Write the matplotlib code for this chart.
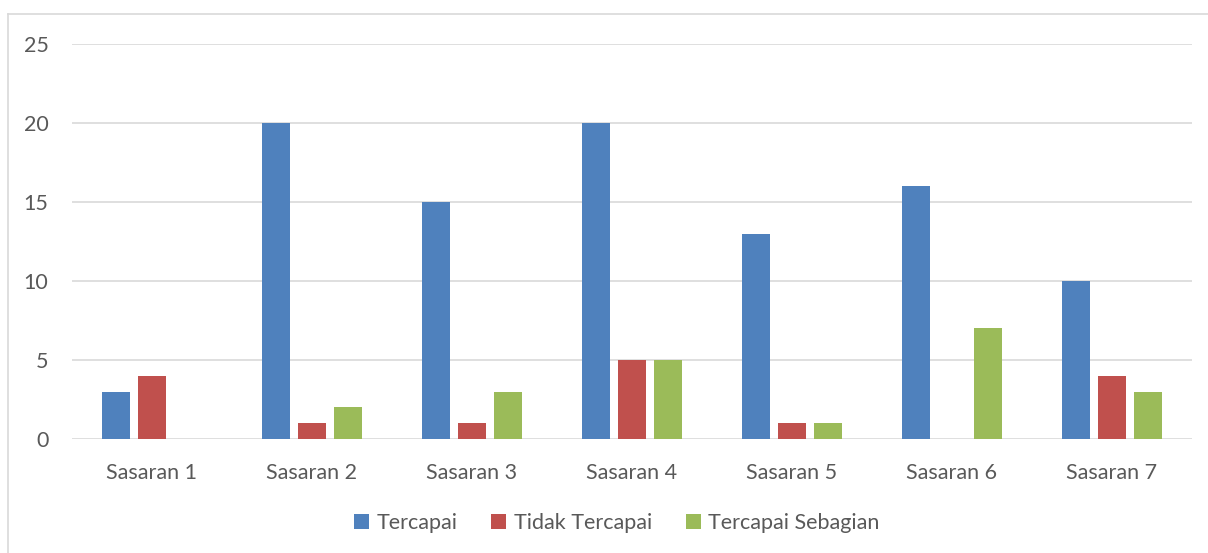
import matplotlib.pyplot as plt
import numpy as np
from matplotlib.lines import Line2D

categories = ['Sasaran 1', 'Sasaran 2', 'Sasaran 3', 'Sasaran 4', 'Sasaran 5', 'Sasaran 6', 'Sasaran 7']
tercapai = [3, 20, 15, 20, 13, 16, 10]
tidak_tercapai = [4, 1, 1, 5, 1, 0, 4]
tercapai_sebagian = [0, 2, 3, 5, 1, 7, 3]

series = [('Tercapai', tercapai, '#4F81BD'),
          ('Tidak Tercapai', tidak_tercapai, '#C0504D'),
          ('Tercapai Sebagian', tercapai_sebagian, '#9BBB59')]

plt.rcParams['font.family'] = ['Lato', 'DejaVu Sans']

fig = plt.figure(figsize=(12.08, 5.53), dpi=100)
ax = fig.add_axes([72/1208, 114/553, 1120/1208, 395/553])

x = np.arange(len(categories))
for i, (name, vals, col) in enumerate(series):
    ax.bar(x + (i - 1) * 0.225, vals, width=0.175, color=col, label=name, zorder=3)

ax.set_xlim(-0.5, len(categories) - 0.5)
ax.set_ylim(0, 25)
ax.set_yticks(range(0, 26, 5))
ax.set_xticks(x)
ax.set_xticklabels(categories)
ax.grid(axis='y', color='#D9D9D9', linewidth=1.2, zorder=0)
for s in ax.spines.values():
    s.set_visible(False)
ax.tick_params(length=0, labelsize=15.5, labelcolor='#595959')
ax.tick_params(axis='y', pad=17)
ax.tick_params(axis='x', pad=17)

# chart border (left and top visible)
fig.add_artist(Line2D([8/1208, 8/1208], [0, 1 - 14/553], color='#D9D9D9', lw=1.2))
fig.add_artist(Line2D([8/1208, 1], [1 - 14/553, 1 - 14/553], color='#D9D9D9', lw=1.2))

fig.legend(loc='center', bbox_to_anchor=(617/1208, 1 - 523/553), ncol=3, frameon=False,
           fontsize=15.5, labelcolor='#595959', handlelength=0.7, handleheight=0.7,
           handletextpad=0.35, columnspacing=1.55)

fig.savefig('out.png', dpi=100)
